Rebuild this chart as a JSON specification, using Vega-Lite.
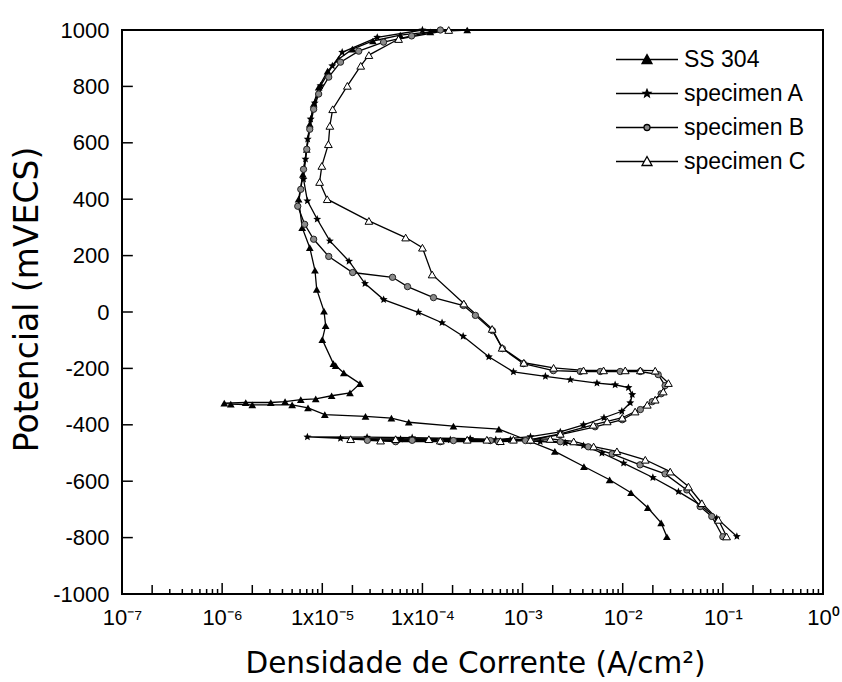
{
"$schema":"https://vega.github.io/schema/vega-lite/v6.json",
"width":701,"height":564,"autosize":"none",
"padding":{"left":122,"top":30,"right":19,"bottom":88},
"background":"white",
"config":{
 "view":{"stroke":"black","strokeWidth":2},
 "axis":{"domain":false,"grid":false,"ticks":false,"labelFont":"Liberation Sans","labelFontSize":22,"labelColor":"black","titleFont":"DejaVu Sans","titleFontSize":29.5,"titleFontWeight":"normal","titleColor":"black"},
 "legend":{"labelFont":"Liberation Sans","labelFontSize":23,"labelColor":"black"}
},
"datasets":{
 "ticks":[
  {"t":1e-6,"p":-1000,"k":"major"},{"t":1e-5,"p":-1000,"k":"major"},{"t":1e-4,"p":-1000,"k":"major"},{"t":1e-3,"p":-1000,"k":"major"},{"t":1e-2,"p":-1000,"k":"major"},{"t":1e-1,"p":-1000,"k":"major"},
  {"t":2e-7,"p":-1000,"k":"two"},{"t":2e-6,"p":-1000,"k":"two"},{"t":2e-5,"p":-1000,"k":"two"},{"t":2e-4,"p":-1000,"k":"two"},{"t":2e-3,"p":-1000,"k":"two"},{"t":2e-2,"p":-1000,"k":"two"},{"t":0.2,"p":-1000,"k":"two"},
  {"t":3e-7,"p":-1000,"k":"minor"},{"t":4e-7,"p":-1000,"k":"minor"},{"t":5e-7,"p":-1000,"k":"minor"},{"t":6e-7,"p":-1000,"k":"minor"},{"t":7e-7,"p":-1000,"k":"minor"},{"t":8e-7,"p":-1000,"k":"minor"},{"t":9e-7,"p":-1000,"k":"minor"},
  {"t":3e-6,"p":-1000,"k":"minor"},{"t":4e-6,"p":-1000,"k":"minor"},{"t":5e-6,"p":-1000,"k":"minor"},{"t":6e-6,"p":-1000,"k":"minor"},{"t":7e-6,"p":-1000,"k":"minor"},{"t":8e-6,"p":-1000,"k":"minor"},{"t":9e-6,"p":-1000,"k":"minor"},
  {"t":3e-5,"p":-1000,"k":"minor"},{"t":4e-5,"p":-1000,"k":"minor"},{"t":5e-5,"p":-1000,"k":"minor"},{"t":6e-5,"p":-1000,"k":"minor"},{"t":7e-5,"p":-1000,"k":"minor"},{"t":8e-5,"p":-1000,"k":"minor"},{"t":9e-5,"p":-1000,"k":"minor"},
  {"t":3e-4,"p":-1000,"k":"minor"},{"t":4e-4,"p":-1000,"k":"minor"},{"t":5e-4,"p":-1000,"k":"minor"},{"t":6e-4,"p":-1000,"k":"minor"},{"t":7e-4,"p":-1000,"k":"minor"},{"t":8e-4,"p":-1000,"k":"minor"},{"t":9e-4,"p":-1000,"k":"minor"},
  {"t":3e-3,"p":-1000,"k":"minor"},{"t":4e-3,"p":-1000,"k":"minor"},{"t":5e-3,"p":-1000,"k":"minor"},{"t":6e-3,"p":-1000,"k":"minor"},{"t":7e-3,"p":-1000,"k":"minor"},{"t":8e-3,"p":-1000,"k":"minor"},{"t":9e-3,"p":-1000,"k":"minor"},
  {"t":3e-2,"p":-1000,"k":"minor"},{"t":4e-2,"p":-1000,"k":"minor"},{"t":5e-2,"p":-1000,"k":"minor"},{"t":6e-2,"p":-1000,"k":"minor"},{"t":7e-2,"p":-1000,"k":"minor"},{"t":8e-2,"p":-1000,"k":"minor"},{"t":9e-2,"p":-1000,"k":"minor"},
  {"t":0.3,"p":-1000,"k":"minor"},{"t":0.4,"p":-1000,"k":"minor"},{"t":0.5,"p":-1000,"k":"minor"},{"t":0.6,"p":-1000,"k":"minor"},{"t":0.7,"p":-1000,"k":"minor"},{"t":0.8,"p":-1000,"k":"minor"},{"t":0.9,"p":-1000,"k":"minor"},
  {"t":1.13e-7,"p":-800,"k":"y"},{"t":1.13e-7,"p":-600,"k":"y"},{"t":1.13e-7,"p":-400,"k":"y"},{"t":1.13e-7,"p":-200,"k":"y"},{"t":1.13e-7,"p":0,"k":"y"},{"t":1.13e-7,"p":200,"k":"y"},{"t":1.13e-7,"p":400,"k":"y"},{"t":1.13e-7,"p":600,"k":"y"},{"t":1.13e-7,"p":800,"k":"y"}
 ]
},
"data":{"values":[
{"s":"SS 304","i":1,"x":0.0276,"v":-797},{"s":"SS 304","i":2,"x":0.0242,"v":-748},{"s":"SS 304","i":3,"x":0.0178,"v":-694},{"s":"SS 304","i":4,"x":0.0121,"v":-641},{"s":"SS 304","i":5,"x":0.0074,"v":-595},{"s":"SS 304","i":6,"x":0.0041,"v":-548},{"s":"SS 304","i":7,"x":0.0021,"v":-494},{"s":"SS 304","i":8,"x":0.00058,"v":-415},{"s":"SS 304","i":9,"x":0.000204,"v":-405},{"s":"SS 304","i":10,"x":7.3e-5,"v":-391},{"s":"SS 304","i":11,"x":4.9e-5,"v":-376},{"s":"SS 304","i":12,"x":2.7e-5,"v":-370},{"s":"SS 304","i":13,"x":1.06e-5,"v":-364},{"s":"SS 304","i":14,"x":7.2e-6,"v":-340},{"s":"SS 304","i":15,"x":5.0e-6,"v":-329},{"s":"SS 304","i":16,"x":2.0e-6,"v":-329},{"s":"SS 304","i":17,"x":1.22e-6,"v":-327},{"s":"SS 304","i":18,"x":1.05e-6,"v":-323},{"s":"SS 304","i":19,"x":1.72e-6,"v":-321},{"s":"SS 304","i":20,"x":3.06e-6,"v":-321},{"s":"SS 304","i":21,"x":4.25e-6,"v":-318},{"s":"SS 304","i":22,"x":6.1e-6,"v":-311},{"s":"SS 304","i":23,"x":8.6e-6,"v":-308},{"s":"SS 304","i":24,"x":1.24e-5,"v":-297},{"s":"SS 304","i":25,"x":1.89e-5,"v":-287},{"s":"SS 304","i":26,"x":2.38e-5,"v":-254},{"s":"SS 304","i":27,"x":1.64e-5,"v":-216},{"s":"SS 304","i":28,"x":1.36e-5,"v":-190},{"s":"SS 304","i":29,"x":1.29e-5,"v":-183},{"s":"SS 304","i":30,"x":1.0e-5,"v":-98},{"s":"SS 304","i":31,"x":1.08e-5,"v":-48},{"s":"SS 304","i":32,"x":1.04e-5,"v":3},{"s":"SS 304","i":33,"x":8.8e-6,"v":80},{"s":"SS 304","i":34,"x":8.45e-6,"v":148},{"s":"SS 304","i":35,"x":7.5e-6,"v":228},{"s":"SS 304","i":36,"x":6.3e-6,"v":299},{"s":"SS 304","i":37,"x":5.8e-6,"v":400},{"s":"SS 304","i":38,"x":6.4e-6,"v":488},{"s":"SS 304","i":39,"x":7.0e-6,"v":577},{"s":"SS 304","i":40,"x":7.5e-6,"v":666},{"s":"SS 304","i":41,"x":8.2e-6,"v":737},{"s":"SS 304","i":42,"x":9.2e-6,"v":797},{"s":"SS 304","i":43,"x":1.13e-5,"v":854},{"s":"SS 304","i":44,"x":1.46e-5,"v":897},{"s":"SS 304","i":45,"x":2.0e-5,"v":932},{"s":"SS 304","i":46,"x":3.2e-5,"v":961},{"s":"SS 304","i":47,"x":6.0e-5,"v":982},{"s":"SS 304","i":48,"x":1.2e-4,"v":993},{"s":"SS 304","i":49,"x":2.8e-4,"v":1000},
{"s":"specimen A","i":1,"x":0.138,"v":-796},{"s":"specimen A","i":2,"x":0.0869,"v":-731},{"s":"specimen A","i":3,"x":0.0593,"v":-684},{"s":"specimen A","i":4,"x":0.036,"v":-637},{"s":"specimen A","i":5,"x":0.020,"v":-587},{"s":"specimen A","i":6,"x":0.0102,"v":-536},{"s":"specimen A","i":7,"x":0.0062,"v":-500},{"s":"specimen A","i":8,"x":0.00406,"v":-474},{"s":"specimen A","i":9,"x":0.00267,"v":-464},{"s":"specimen A","i":10,"x":0.0015,"v":-460},{"s":"specimen A","i":11,"x":7.55e-4,"v":-453},{"s":"specimen A","i":12,"x":3.0e-4,"v":-449},{"s":"specimen A","i":13,"x":7.9e-5,"v":-446},{"s":"specimen A","i":14,"x":2.8e-5,"v":-444},{"s":"specimen A","i":15,"x":7.1e-6,"v":-443},{"s":"specimen A","i":16,"x":1.52e-5,"v":-448},{"s":"specimen A","i":17,"x":6.05e-5,"v":-451},{"s":"specimen A","i":18,"x":1.9e-4,"v":-453},{"s":"specimen A","i":19,"x":5.4e-4,"v":-453},{"s":"specimen A","i":20,"x":1.2e-3,"v":-442},{"s":"specimen A","i":21,"x":2.38e-3,"v":-425},{"s":"specimen A","i":22,"x":4.06e-3,"v":-400},{"s":"specimen A","i":23,"x":6.5e-3,"v":-375},{"s":"specimen A","i":24,"x":9.8e-3,"v":-352},{"s":"specimen A","i":25,"x":0.0119,"v":-322},{"s":"specimen A","i":26,"x":0.01245,"v":-293},{"s":"specimen A","i":27,"x":0.0114,"v":-268},{"s":"specimen A","i":28,"x":0.0084,"v":-258},{"s":"specimen A","i":29,"x":0.00553,"v":-252},{"s":"specimen A","i":30,"x":0.003,"v":-240},{"s":"specimen A","i":31,"x":0.00169,"v":-228},{"s":"specimen A","i":32,"x":8.1e-4,"v":-212},{"s":"specimen A","i":33,"x":4.6e-4,"v":-159},{"s":"specimen A","i":34,"x":2.55e-4,"v":-86},{"s":"specimen A","i":35,"x":1.57e-4,"v":-38},{"s":"specimen A","i":36,"x":9.1e-5,"v":-1},{"s":"specimen A","i":37,"x":4.1e-5,"v":44},{"s":"specimen A","i":38,"x":2.67e-5,"v":101},{"s":"specimen A","i":39,"x":1.85e-5,"v":180},{"s":"specimen A","i":40,"x":1.19e-5,"v":252},{"s":"specimen A","i":41,"x":8.9e-6,"v":329},{"s":"specimen A","i":42,"x":7.1e-6,"v":394},{"s":"specimen A","i":43,"x":6.5e-6,"v":471},{"s":"specimen A","i":44,"x":6.8e-6,"v":542},{"s":"specimen A","i":45,"x":7.15e-6,"v":613},{"s":"specimen A","i":46,"x":7.66e-6,"v":684},{"s":"specimen A","i":47,"x":8.4e-6,"v":741},{"s":"specimen A","i":48,"x":9.6e-6,"v":802},{"s":"specimen A","i":49,"x":1.26e-5,"v":873},{"s":"specimen A","i":50,"x":1.58e-5,"v":921},{"s":"specimen A","i":51,"x":3.54e-5,"v":974},{"s":"specimen A","i":52,"x":1.0e-4,"v":1000},
{"s":"specimen B","i":1,"x":0.1,"v":-797},{"s":"specimen B","i":2,"x":0.0775,"v":-725},{"s":"specimen B","i":3,"x":0.0593,"v":-690},{"s":"specimen B","i":4,"x":0.0437,"v":-631},{"s":"specimen B","i":5,"x":0.0265,"v":-574},{"s":"specimen B","i":6,"x":0.0149,"v":-542},{"s":"specimen B","i":7,"x":0.00785,"v":-503},{"s":"specimen B","i":8,"x":0.00453,"v":-478},{"s":"specimen B","i":9,"x":0.00238,"v":-460},{"s":"specimen B","i":10,"x":0.0012,"v":-456},{"s":"specimen B","i":11,"x":4.78e-4,"v":-456},{"s":"specimen B","i":12,"x":2.04e-4,"v":-456},{"s":"specimen B","i":13,"x":7.9e-5,"v":-455},{"s":"specimen B","i":14,"x":2.82e-5,"v":-455},{"s":"specimen B","i":15,"x":5.4e-5,"v":-460},{"s":"specimen B","i":16,"x":1.51e-4,"v":-460},{"s":"specimen B","i":17,"x":5.74e-4,"v":-460},{"s":"specimen B","i":18,"x":1.07e-3,"v":-456},{"s":"specimen B","i":19,"x":2.38e-3,"v":-435},{"s":"specimen B","i":20,"x":5.3e-3,"v":-407},{"s":"specimen B","i":21,"x":9.9e-3,"v":-382},{"s":"specimen B","i":22,"x":0.015,"v":-346},{"s":"specimen B","i":23,"x":0.0197,"v":-318},{"s":"specimen B","i":24,"x":0.0242,"v":-290},{"s":"specimen B","i":25,"x":0.0265,"v":-261},{"s":"specimen B","i":26,"x":0.0226,"v":-222},{"s":"specimen B","i":27,"x":0.015,"v":-211},{"s":"specimen B","i":28,"x":0.00944,"v":-211},{"s":"specimen B","i":29,"x":0.00597,"v":-211},{"s":"specimen B","i":30,"x":0.00377,"v":-211},{"s":"specimen B","i":31,"x":0.00203,"v":-208},{"s":"specimen B","i":32,"x":1.02e-3,"v":-183},{"s":"specimen B","i":33,"x":6.3e-4,"v":-130},{"s":"specimen B","i":34,"x":5.0e-4,"v":-66},{"s":"specimen B","i":35,"x":3.38e-4,"v":-12},{"s":"specimen B","i":36,"x":2.57e-4,"v":23},{"s":"specimen B","i":37,"x":1.29e-4,"v":51},{"s":"specimen B","i":38,"x":7.1e-5,"v":90},{"s":"specimen B","i":39,"x":5.03e-5,"v":123},{"s":"specimen B","i":40,"x":2.01e-5,"v":140},{"s":"specimen B","i":41,"x":1.16e-5,"v":197},{"s":"specimen B","i":42,"x":8.2e-6,"v":258},{"s":"specimen B","i":43,"x":6.67e-6,"v":311},{"s":"specimen B","i":44,"x":5.69e-6,"v":375},{"s":"specimen B","i":45,"x":6.1e-6,"v":435},{"s":"specimen B","i":46,"x":6.5e-6,"v":506},{"s":"specimen B","i":47,"x":7.0e-6,"v":577},{"s":"specimen B","i":48,"x":7.5e-6,"v":648},{"s":"specimen B","i":49,"x":8.2e-6,"v":719},{"s":"specimen B","i":50,"x":9.2e-6,"v":773},{"s":"specimen B","i":51,"x":1.16e-5,"v":833},{"s":"specimen B","i":52,"x":1.52e-5,"v":886},{"s":"specimen B","i":53,"x":2.31e-5,"v":925},{"s":"specimen B","i":54,"x":4.09e-5,"v":957},{"s":"specimen B","i":55,"x":7.8e-5,"v":979},{"s":"specimen B","i":56,"x":1.51e-4,"v":1000},
{"s":"specimen C","i":1,"x":0.109,"v":-796},{"s":"specimen C","i":2,"x":0.0902,"v":-737},{"s":"specimen C","i":3,"x":0.0617,"v":-678},{"s":"specimen C","i":4,"x":0.0453,"v":-619},{"s":"specimen C","i":5,"x":0.0298,"v":-566},{"s":"specimen C","i":6,"x":0.0168,"v":-524},{"s":"specimen C","i":7,"x":0.00875,"v":-494},{"s":"specimen C","i":8,"x":0.00512,"v":-477},{"s":"specimen C","i":9,"x":0.00324,"v":-459},{"s":"specimen C","i":10,"x":0.00189,"v":-450},{"s":"specimen C","i":11,"x":8.1e-4,"v":-453},{"s":"specimen C","i":12,"x":4.4e-4,"v":-453},{"s":"specimen C","i":13,"x":2.8e-4,"v":-453},{"s":"specimen C","i":14,"x":1.16e-4,"v":-451},{"s":"specimen C","i":15,"x":5.4e-5,"v":-451},{"s":"specimen C","i":16,"x":1.92e-5,"v":-451},{"s":"specimen C","i":17,"x":3.82e-5,"v":-456},{"s":"specimen C","i":18,"x":1.51e-4,"v":-456},{"s":"specimen C","i":19,"x":6.0e-4,"v":-458},{"s":"specimen C","i":20,"x":1.2e-3,"v":-453},{"s":"specimen C","i":21,"x":2.38e-3,"v":-432},{"s":"specimen C","i":22,"x":5.08e-3,"v":-400},{"s":"specimen C","i":23,"x":7.0e-3,"v":-388},{"s":"specimen C","i":24,"x":9.9e-3,"v":-375},{"s":"specimen C","i":25,"x":0.0133,"v":-353},{"s":"specimen C","i":26,"x":0.0176,"v":-329},{"s":"specimen C","i":27,"x":0.0211,"v":-311},{"s":"specimen C","i":28,"x":0.0254,"v":-282},{"s":"specimen C","i":29,"x":0.0286,"v":-252},{"s":"specimen C","i":30,"x":0.0211,"v":-208},{"s":"specimen C","i":31,"x":0.015,"v":-207},{"s":"specimen C","i":32,"x":0.0106,"v":-207},{"s":"specimen C","i":33,"x":0.00644,"v":-207},{"s":"specimen C","i":34,"x":0.00406,"v":-207},{"s":"specimen C","i":35,"x":0.00204,"v":-198},{"s":"specimen C","i":36,"x":1.03e-3,"v":-180},{"s":"specimen C","i":37,"x":6.25e-4,"v":-127},{"s":"specimen C","i":38,"x":4.97e-4,"v":-60},{"s":"specimen C","i":39,"x":2.59e-4,"v":30},{"s":"specimen C","i":40,"x":1.25e-4,"v":133},{"s":"specimen C","i":41,"x":1.0e-4,"v":228},{"s":"specimen C","i":42,"x":6.8e-5,"v":264},{"s":"specimen C","i":43,"x":2.92e-5,"v":323},{"s":"specimen C","i":44,"x":1.12e-5,"v":400},{"s":"specimen C","i":45,"x":9.4e-6,"v":461},{"s":"specimen C","i":46,"x":9.9e-6,"v":518},{"s":"specimen C","i":47,"x":1.15e-5,"v":595},{"s":"specimen C","i":48,"x":1.19e-5,"v":660},{"s":"specimen C","i":49,"x":1.27e-5,"v":719},{"s":"specimen C","i":50,"x":1.78e-5,"v":802},{"s":"specimen C","i":51,"x":2.42e-5,"v":873},{"s":"specimen C","i":52,"x":2.92e-5,"v":911},{"s":"specimen C","i":53,"x":5.78e-5,"v":968},{"s":"specimen C","i":54,"x":1.83e-4,"v":1000}
]},
"layer":[
 {"mark":{"type":"line","color":"black","strokeWidth":1.3},
  "encoding":{
   "x":{"field":"x","type":"quantitative","scale":{"type":"log","domain":[1e-7,1],"nice":false},
        "axis":{"orient":"bottom","values":[1e-7,1e-6,1e-5,1e-4,1e-3,1e-2,1e-1,1],"labelPadding":13,"labelFlush":false,"labelOverlap":false,
        "labelExpr":"['10⁻⁷','10⁻⁶','1x10⁻⁵','1x10⁻⁴','10⁻³','10⁻²','10⁻¹','10⁰'][round(log(datum.value)/LN10)+7]",
        "title":"Densidade de Corrente (A/cm²)","titleX":353,"titleY":69,"titleBaseline":"middle","titleAlign":"center"}},
   "y":{"field":"v","type":"quantitative","scale":{"domain":[-1000,1000],"nice":false,"zero":false},
        "axis":{"orient":"left","values":[-1000,-800,-600,-400,-200,0,200,400,600,800,1000],"labelPadding":13,"labelFlush":false,"labelOverlap":false,"labelExpr":"'' + datum.value",
        "title":"Potencial (mVECS)","titleFontSize":33,"titleX":-95,"titleY":269,"titleAngle":-90,"titleBaseline":"middle","titleAlign":"center"}},
   "detail":{"field":"s"},
   "order":{"field":"i","type":"quantitative"}}},
 {"data":{"name":"ticks"},"transform":[{"filter":"datum.k === 'two'"}],
  "mark":{"type":"point","shape":"M0,0V-1.8","filled":false,"stroke":"black","strokeWidth":1.5,"size":100,"opacity":1},
  "encoding":{"x":{"field":"t","type":"quantitative"},"y":{"field":"p","type":"quantitative"}}},
 {"data":{"name":"ticks"},"transform":[{"filter":"datum.k === 'minor'"}],
  "mark":{"type":"point","shape":"M0,0V-1","filled":false,"stroke":"black","strokeWidth":1.5,"size":100,"opacity":1},
  "encoding":{"x":{"field":"t","type":"quantitative"},"y":{"field":"p","type":"quantitative"}}},
 {"data":{"name":"ticks"},"transform":[{"filter":"datum.k === 'major'"}],
  "mark":{"type":"point","shape":"M0,0V-1.8","filled":false,"stroke":"black","strokeWidth":1.5,"size":150,"opacity":1},
  "encoding":{"x":{"field":"t","type":"quantitative"},"y":{"field":"p","type":"quantitative"}}},
 {"data":{"name":"ticks"},"transform":[{"filter":"datum.k === 'y'"}],
  "mark":{"type":"point","shape":"M-1,0H1","filled":false,"stroke":"black","strokeWidth":1.5,"size":121,"opacity":1},
  "encoding":{"x":{"field":"t","type":"quantitative"},"y":{"field":"p","type":"quantitative"}}},
 {"transform":[{"filter":"datum.s === 'SS 304'"}],
  "mark":{"type":"point","shape":"triangle-up","filled":true,"fill":"black","size":60,"opacity":1},
  "encoding":{"x":{"field":"x","type":"quantitative"},"y":{"field":"v","type":"quantitative"}}},
 {"transform":[{"filter":"datum.s === 'specimen A'"}],
  "mark":{"type":"point","shape":"M0,-1L0.26,-0.36L0.95,-0.31L0.43,0.14L0.59,0.81L0,0.45L-0.59,0.81L-0.43,0.14L-0.95,-0.31L-0.26,-0.36Z","filled":true,"fill":"black","size":70,"opacity":1},
  "encoding":{"x":{"field":"x","type":"quantitative"},"y":{"field":"v","type":"quantitative"}}},
 {"transform":[{"filter":"datum.s === 'specimen B'"}],
  "mark":{"type":"point","shape":"circle","filled":true,"fill":"#8a8a8a","stroke":"#222","strokeWidth":1,"size":40,"opacity":1},
  "encoding":{"x":{"field":"x","type":"quantitative"},"y":{"field":"v","type":"quantitative"}}},
 {"transform":[{"filter":"datum.s === 'specimen C'"}],
  "mark":{"type":"point","shape":"triangle-up","filled":false,"fill":"white","stroke":"black","strokeWidth":1,"size":60,"opacity":1},
  "encoding":{"x":{"field":"x","type":"quantitative"},"y":{"field":"v","type":"quantitative"}}},
 {"transform":[{"filter":"false"}],
  "mark":{"type":"point","filled":true,"stroke":"black","strokeWidth":1.3,"opacity":1},
  "encoding":{
   "x":{"field":"x","type":"quantitative"},
   "y":{"field":"v","type":"quantitative"},
   "shape":{"field":"s","type":"nominal","scale":{"domain":["SS 304","specimen A","specimen B","specimen C"],
     "range":["M-6.2,0H6.2M0,-1L1,0.8H-1Z",
              "M-6.2,0H6.2M0,-0.8L0.21,-0.29L0.76,-0.25L0.34,0.11L0.47,0.65L0,0.36L-0.47,0.65L-0.34,0.11L-0.76,-0.25L-0.21,-0.29Z",
              "M-6.2,0H-0.6M0.6,0H6.2M0.6,0A0.6,0.6 0 1,1 -0.6,0A0.6,0.6 0 1,1 0.6,0Z",
              "M-6.2,0H-0.56M0.56,0H6.2M0,-1L1,0.8H-1Z"]},
     "legend":{"title":null,"orient":"none","legendX":513.5,"legendY":18,"symbolSize":100,"labelOffset":25.5,"rowPadding":10,"padding":0,"symbolStrokeWidth":1.3}},
   "fill":{"field":"s","type":"nominal","scale":{"domain":["SS 304","specimen A","specimen B","specimen C"],"range":["black","black","#8a8a8a","white"]},
     "legend":{"title":null,"orient":"none","legendX":513.5,"legendY":18,"symbolSize":100,"labelOffset":25.5,"rowPadding":10,"padding":0,"symbolStrokeWidth":1.3}}}}
]
}
